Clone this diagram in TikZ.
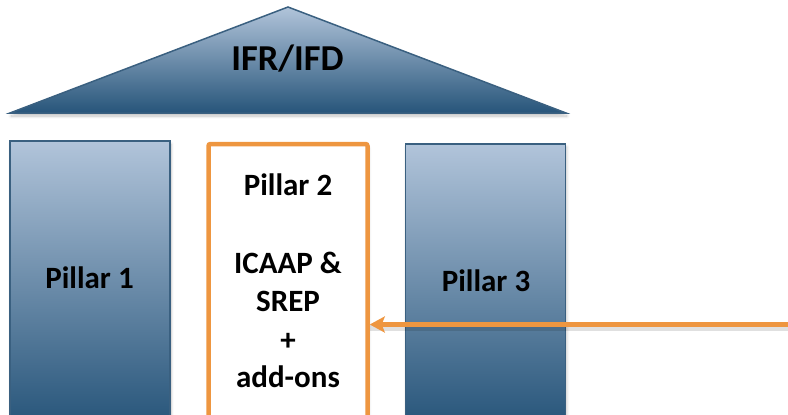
\documentclass[tikz,border=0pt]{standalone}
\usepackage{fontspec}
\setmainfont{Carlito}
\usetikzlibrary{shadows.blur,arrows.meta}
\definecolor{pillarTop}{HTML}{B1C4DA}
\definecolor{pillarBot}{HTML}{27557A}
\definecolor{pillarEdge}{HTML}{3A6080}
\definecolor{accent}{HTML}{EE9640}
\begin{document}
\begin{tikzpicture}[x=1pt,y=-1pt,
  softshadow/.style={blur shadow={shadow blur steps=6, shadow xshift=1pt, shadow yshift=-3pt, shadow opacity=25, shadow blur radius=3pt}},
  pillarbox/.style={draw=pillarEdge, line width=1.5pt, top color=pillarTop, bottom color=pillarBot, softshadow},
  label/.style={font=\bfseries\fontsize{31}{36}\selectfont, anchor=base, inner sep=0pt},
  arrowline/.style={draw=accent, line width=5pt, -{Stealth[length=15pt, width=16pt, inset=3pt]}}
]
\useasboundingbox (0,0) rectangle (788,415);

% roof
\coordinate (roofL) at (10,113);
\coordinate (roofR) at (566,113);
\coordinate (roofT) at (288,7);
\path[pillarbox] (roofL) -- (roofT) -- (roofR) -- cycle;
\node[label, font=\bfseries\fontsize{36.5}{40}\selectfont] (roofText) at (287.5,70) {IFR/IFD};

% pillars 1 and 3
\path[pillarbox] (10,141) rectangle (170,425);
\path[pillarbox] (405.5,144) rectangle (565.5,425);
\node[label] (p1Text) at (89.5,288) {Pillar 1};
\node[label] (p3Text) at (486,291) {Pillar 3};

% pillar 2, highlighted
\node[draw=accent, line width=4.5pt, fill=white, rounded corners=2pt,
      minimum width=159pt, minimum height=280pt, inner sep=0pt, softshadow] (p2) at (288,284) {};
\node[label] (p2Title) at (288,195) {Pillar 2};
\node[label] (p2a) at (288,273) {ICAAP \&};
\node[label] (p2b) at (288,311) {SREP};
\node[label] (p2c) at (288,350) {+};
\node[label] (p2d) at (288,387) {add-ons};

% incoming arrow
\coordinate (src) at (795,324.5);
\draw[line width=6pt, black, opacity=0.12, transform canvas={yshift=-3pt}] (src) -- (src -| p2.east);
\draw[arrowline] (src) -- (src -| p2.east);
\end{tikzpicture}
\end{document}
